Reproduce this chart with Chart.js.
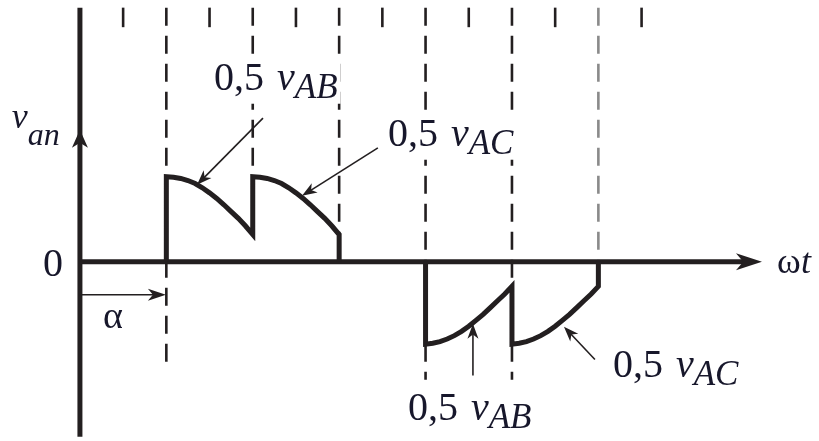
<!DOCTYPE html>
<html>
<head>
<meta charset="utf-8">
<script src="https://cdn.jsdelivr.net/npm/chart.js@4/dist/chart.umd.min.js"></script>
<style>
  html, body { margin: 0; padding: 0; background: #ffffff; }
  #wrap { width: 819px; height: 441px; }
</style>
</head>
<body>
<div id="wrap"><canvas id="c" width="819" height="441"></canvas></div>
<script>
// Phase-to-neutral voltage v_an of the controlled converter (alpha = 60 deg).
// Angles in electrical degrees, amplitudes relative to the 0,5 v_AB peak.

// positive pulse: 0,5 v_AB from 60 to 120 deg, then 0,5 v_AC from 120 to 180 deg
const angAB1 = [60, 65, 70, 75, 80, 85, 90, 95, 100, 105, 110, 115, 120];
const valAB1 = [1.00, 0.995, 0.98, 0.955, 0.92, 0.87, 0.81, 0.745, 0.67, 0.59, 0.51, 0.42, 0.32];
const angAC1 = [120, 125, 130, 135, 140, 145, 150, 155, 160, 165, 170, 175, 180];
const valAC1 = [1.00, 0.995, 0.98, 0.955, 0.92, 0.87, 0.81, 0.745, 0.67, 0.59, 0.51, 0.42, 0.32];

// negative pulse: 0,5 v_AB from 240 to 300 deg, then 0,5 v_AC from 300 to 360 deg
const angAB2 = [240, 245, 250, 255, 260, 265, 270, 275, 280, 285, 290, 295, 300];
const valAB2 = [-0.97, -0.96, -0.94, -0.91, -0.87, -0.82, -0.76, -0.69, -0.62, -0.54, -0.46, -0.38, -0.29];
const angAC2 = [300, 305, 310, 315, 320, 325, 330, 335, 340, 345, 350, 355, 360];
const valAC2 = [-0.97, -0.96, -0.94, -0.91, -0.87, -0.82, -0.76, -0.69, -0.62, -0.54, -0.46, -0.38, -0.29];

// switching instants (dashed guides) and the intermediate marks at the top
const guideAngles = [60, 120, 180, 240, 300, 360];
const topMarkAngles = [30, 90, 150, 210, 270, 330, 390];

// text
const labelLead = '0,5';
const labelSym = 'v';
const subAB = 'AB';
const subAC = 'AC';
const axisYName = 'v';
const axisYSub = 'an';
const axisXName = 'ωt';
const zeroText = '0';
const alphaText = 'α';

const INK = '#231f20';
const TEXT = '#17172b';
const SERIF = '"Liberation Serif", "DejaVu Serif", serif';

// build a pulse (with its vertical edges) from two consecutive segments
function pulse(a1, v1, a2, v2) {
  const pts = [{ x: a1[0], y: 0 }];
  a1.forEach((a, i) => pts.push({ x: a, y: v1[i] }));
  a2.forEach((a, i) => pts.push({ x: a, y: v2[i] }));
  pts.push({ x: a2[a2.length - 1], y: 0 });
  return pts;
}

// guide line extents (lower end, in amplitude units)
const guideBottom = {
  60: -1.21, 120: valAC1[0], 180: valAC1[valAC1.length - 1],
  240: -1.39, 300: -1.39, 360: 0
};

// annotation arrows: [tailX, tailY, tipX, tipY]
const pointers = [
  [127.1, 1.69, 81.3, 0.905],
  [206.9, 1.34, 154.2, 0.775],
  [272.9, -1.34, 272.9, -0.73],
  [357.6, -1.15, 336.1, -0.765]
];

const overlay = {
  id: 'overlay',
  beforeDraw(chart) {
    const c = chart.ctx;
    c.save();
    c.fillStyle = '#ffffff';
    c.fillRect(0, 0, chart.width, chart.height);
    c.restore();
  },
  beforeDatasetsDraw(chart) {
    const c = chart.ctx;
    const X = v => chart.scales.x.getPixelForValue(v);
    const Y = v => chart.scales.y.getPixelForValue(v);
    c.save();
    // dashed guides
    c.lineWidth = 2.6;
    c.setLineDash([18, 10]);
    guideAngles.forEach(a => {
      c.strokeStyle = a === 360 ? '#8a8a8a' : INK;
      c.beginPath();
      c.moveTo(X(a), Y(2.99));
      c.lineTo(X(a), Y(guideBottom[a]));
      c.stroke();
    });
    c.setLineDash([]);
    // short marks along the top
    c.strokeStyle = INK;
    topMarkAngles.forEach(a => {
      c.beginPath();
      c.moveTo(X(a), Y(2.99));
      c.lineTo(X(a), Y(2.76));
      c.stroke();
    });
    // axes
    c.lineWidth = 5;
    c.beginPath();
    c.moveTo(X(0), Y(2.99));
    c.lineTo(X(0), Y(-2.06));
    c.stroke();
    c.beginPath();
    c.moveTo(X(0), Y(0));
    c.lineTo(X(466), Y(0));
    c.stroke();
    c.fillStyle = INK;
    arrowHead(c, X(473.6), Y(0), 1, 0, 26, 8.5);
    arrowHead(c, X(0), Y(1.553), 0, -1, 18, 8);
    c.restore();
  },
  afterDatasetsDraw(chart) {
    const c = chart.ctx;
    const X = v => chart.scales.x.getPixelForValue(v);
    const Y = v => chart.scales.y.getPixelForValue(v);
    c.save();
    c.textBaseline = 'alphabetic';
    c.textAlign = 'left';
    // curve labels sit on a white ground that interrupts the guides
    subLabel(c, X(93.1), Y(2.024), subAB);
    subLabel(c, X(213.9), Y(1.365), subAC);
    subLabel(c, X(227.8), Y(-1.859), subAB);
    subLabel(c, X(370.1), Y(-1.353), subAC);

    c.strokeStyle = INK;
    c.fillStyle = INK;
    c.lineWidth = 1.6;
    // pointers to the curve segments
    pointers.forEach(p => {
      const x1 = X(p[0]), y1 = Y(p[1]), x2 = X(p[2]), y2 = Y(p[3]);
      const len = Math.hypot(x2 - x1, y2 - y1);
      const ux = (x2 - x1) / len, uy = (y2 - y1) / len;
      c.beginPath();
      c.moveTo(x1, y1);
      c.lineTo(x2 - ux * 8, y2 - uy * 8);
      c.stroke();
      arrowHead(c, x2, y2, ux, uy, 15, 5.5);
    });
    // firing delay alpha
    c.beginPath();
    c.moveTo(X(0), Y(-0.388));
    c.lineTo(X(52), Y(-0.388));
    c.stroke();
    arrowHead(c, X(59.7), Y(-0.388), 1, 0, 18, 6);

    c.fillStyle = TEXT;
    c.font = 'italic 36px ' + SERIF;
    c.fillText(axisYName, X(-47.4), Y(1.576));
    c.font = 'italic 32px ' + SERIF;
    c.fillText(axisYSub, X(-47.4) + 16, Y(1.576) + 17);

    c.font = '40px ' + SERIF;
    c.fillText(zeroText, X(-25.7), Y(-0.165));
    c.font = '38px ' + SERIF;
    c.fillText(alphaText, X(16), Y(-0.776));
    c.font = '36px ' + SERIF;
    c.fillText(axisXName.charAt(0), X(484), Y(-0.13));
    c.font = 'italic 36px ' + SERIF;
    c.fillText(axisXName.charAt(1), X(484) + 24, Y(-0.13));
    c.restore();
  }
};

function subLabel(c, x, y, sub) {
  c.font = '40px ' + SERIF;
  const w1 = c.measureText(labelLead).width;
  c.font = 'italic 40px ' + SERIF;
  const w2 = c.measureText(labelSym).width;
  c.font = 'italic 35px ' + SERIF;
  const w3 = c.measureText(sub).width;
  c.fillStyle = '#ffffff';
  c.fillRect(x - 3, y - 30, w1 + 13 + w2 + w3 + 6, 44);
  c.fillStyle = TEXT;
  c.font = '40px ' + SERIF;
  c.fillText(labelLead, x, y);
  let cx = x + w1 + 13;
  c.font = 'italic 40px ' + SERIF;
  c.fillText(labelSym, cx, y);
  cx += w2;
  c.font = 'italic 35px ' + SERIF;
  c.fillText(sub, cx, y + 8);
}

// filled arrowhead with a slightly hollow back
function arrowHead(c, tx, ty, ux, uy, len, half) {
  const nx = -uy, ny = ux;
  const bx = tx - ux * len, by = ty - uy * len;
  c.beginPath();
  c.moveTo(tx, ty);
  c.lineTo(bx + nx * half, by + ny * half);
  c.lineTo(tx - ux * len * 0.72, ty - uy * len * 0.72);
  c.lineTo(bx - nx * half, by - ny * half);
  c.closePath();
  c.fill();
}

const lineStyle = {
  borderColor: INK,
  borderWidth: 5,
  pointRadius: 0,
  tension: 0,
  fill: false,
  borderJoinStyle: 'miter',
  borderCapStyle: 'butt'
};

new Chart(document.getElementById('c'), {
  type: 'line',
  data: {
    datasets: [
      Object.assign({ label: 'positive pulse', data: pulse(angAB1, valAB1, angAC1, valAC1) }, lineStyle),
      Object.assign({ label: 'negative pulse', data: pulse(angAB2, valAB2, angAC2, valAC2) }, lineStyle)
    ]
  },
  options: {
    responsive: false,
    animation: false,
    events: [],
    layout: { padding: 0 },
    plugins: { legend: { display: false }, tooltip: { enabled: false } },
    scales: {
      x: { type: 'linear', min: -55.5, max: 513.2, display: false },
      y: { type: 'linear', min: -2.11, max: 3.08, display: false }
    }
  },
  plugins: [overlay]
});
</script>
</body>
</html>
